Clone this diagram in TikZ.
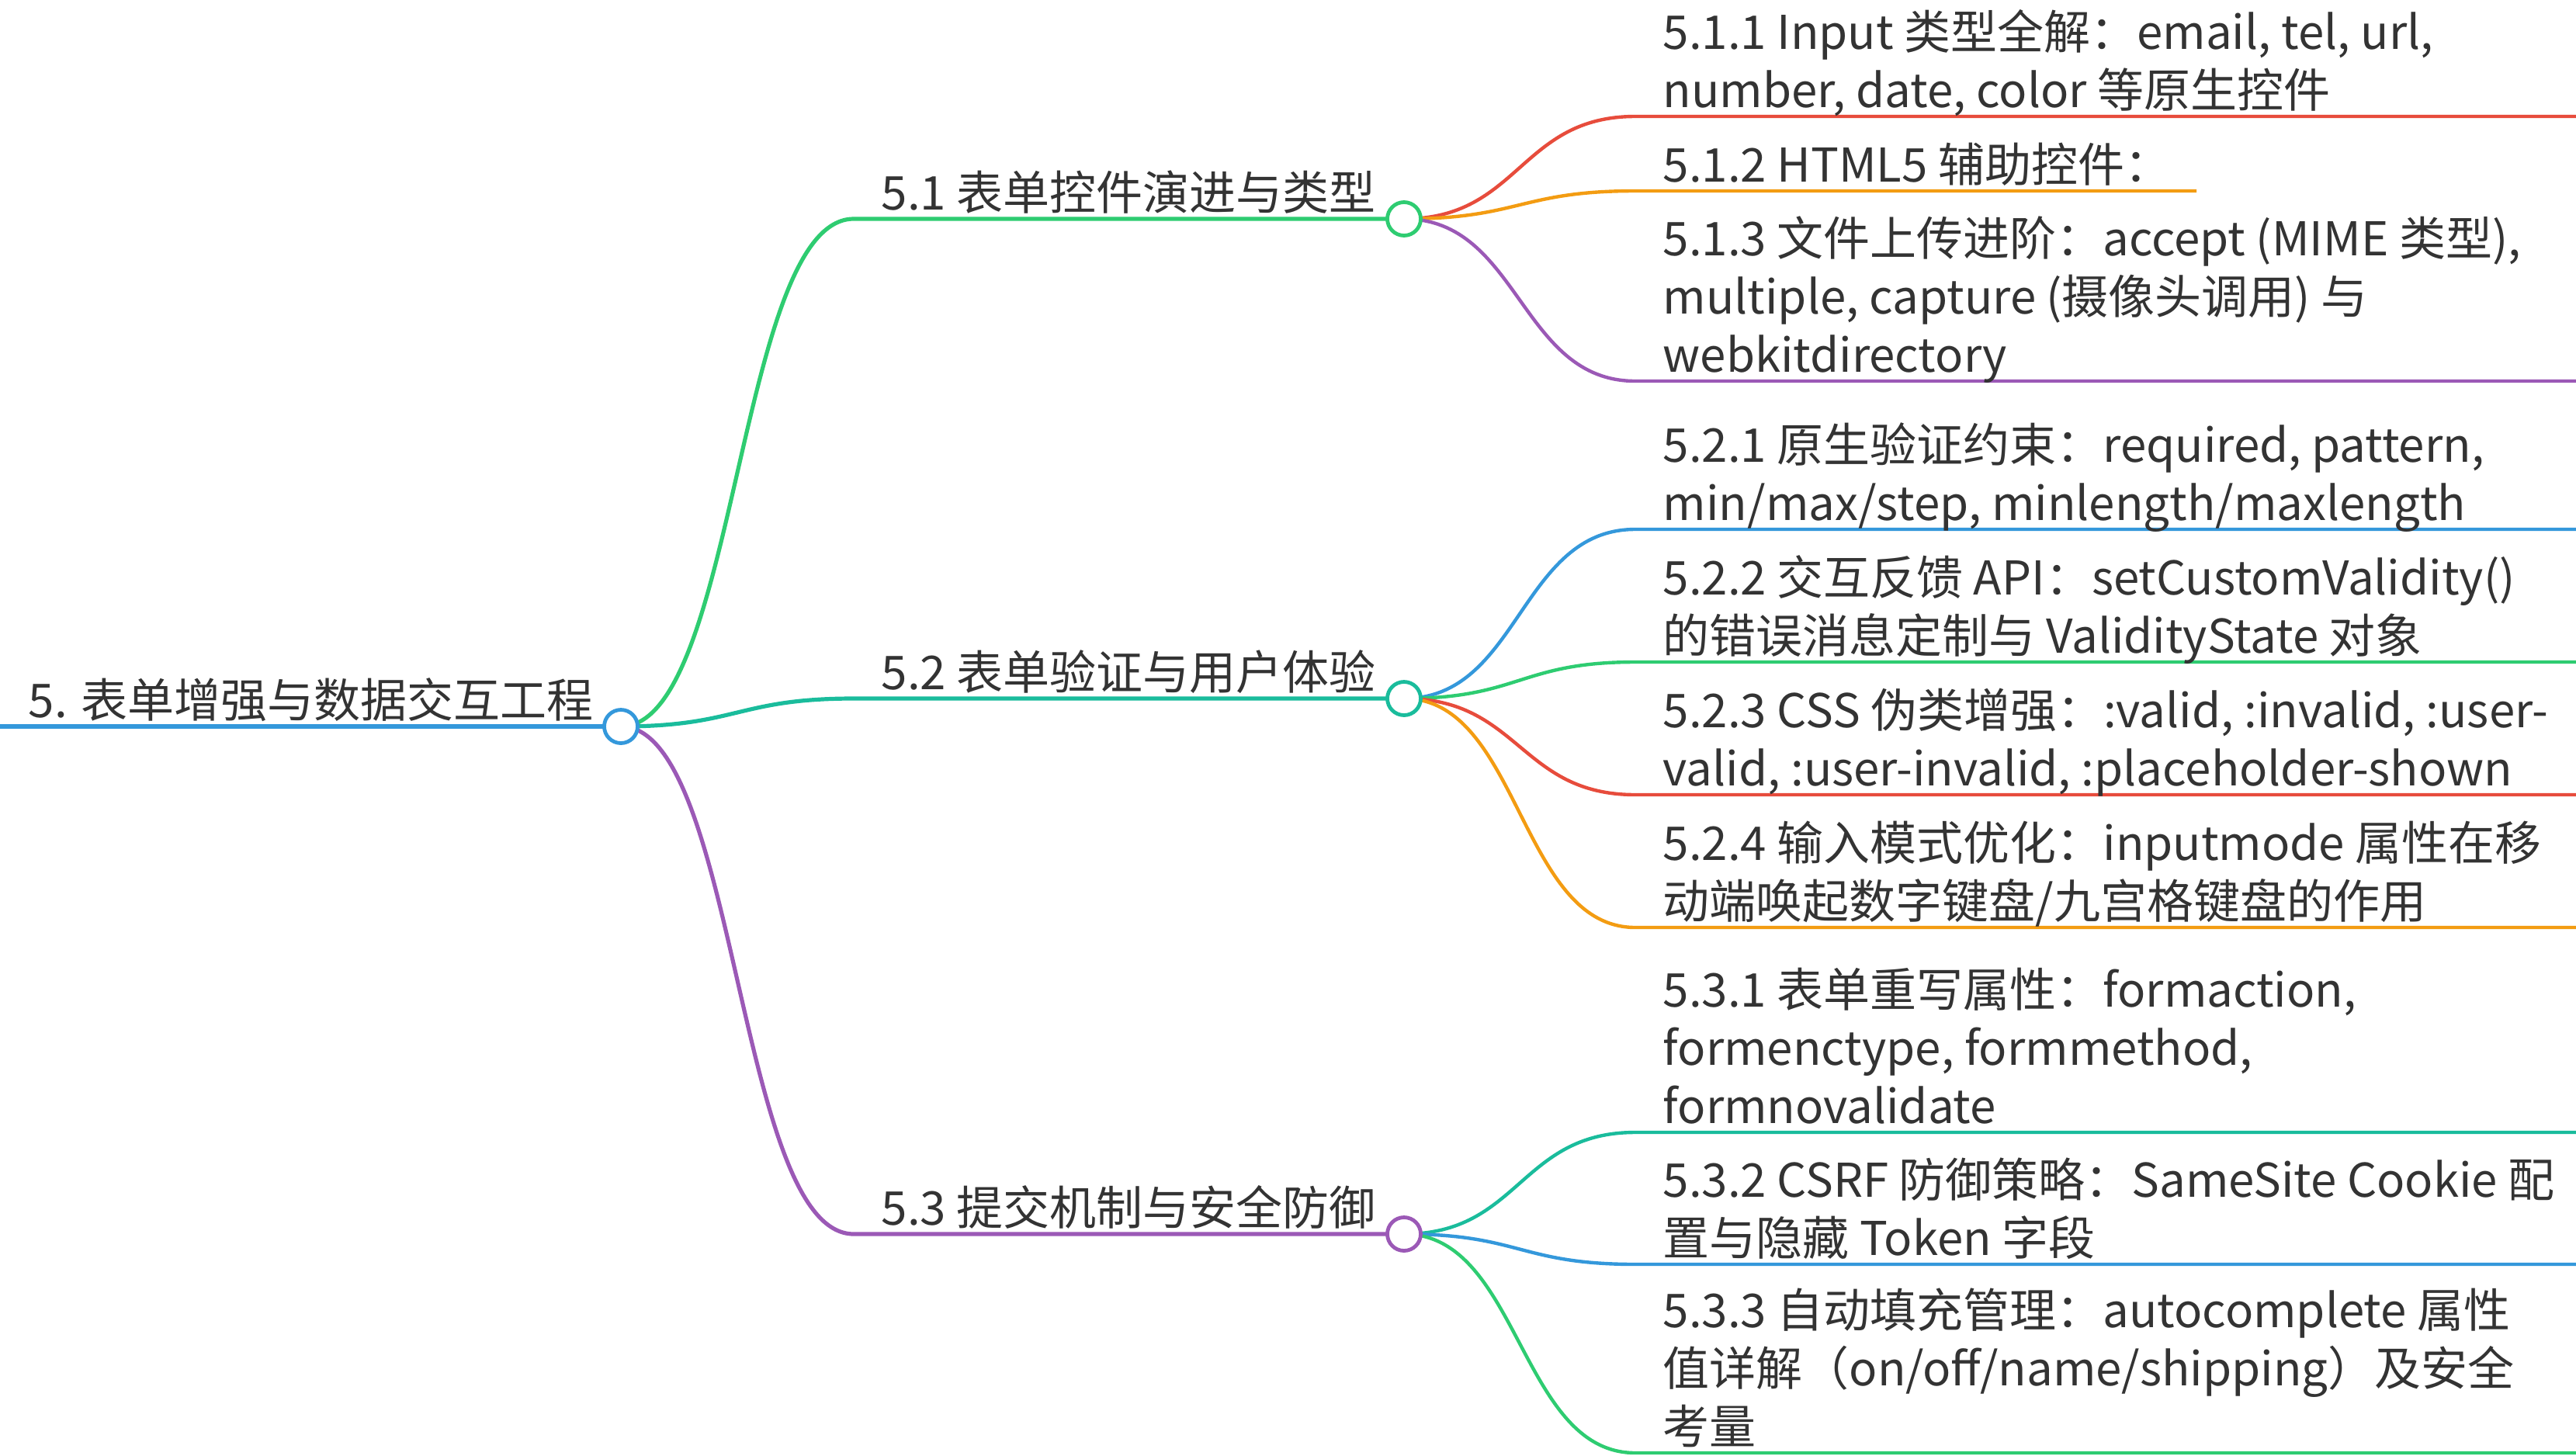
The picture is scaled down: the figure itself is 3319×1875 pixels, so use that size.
\documentclass[tikz,border=0pt]{standalone}
\usepackage{fontspec}
\setmainfont{Noto Sans CJK SC}
\usetikzlibrary{calc,backgrounds}

\definecolor{mmblue}{HTML}{3498DB}
\definecolor{mmgreen}{HTML}{2ECC71}
\definecolor{mmteal}{HTML}{1ABC9C}
\definecolor{mmpurple}{HTML}{9B59B6}
\definecolor{mmred}{HTML}{E74C3C}
\definecolor{mmorange}{HTML}{F39C12}
\definecolor{mmtext}{HTML}{333333}

\newcommand{\leaf}[1]{\parbox[t]{330pt}{#1}}

\begin{document}
\begin{tikzpicture}[
            x=0.25pt, y=-0.25pt,
            txt/.style={
                anchor=base west,
                inner sep=0pt,
                text=mmtext,
                font=\fontsize{15}{18.75}\selectfont
            },
            knob/.style={
                circle,
                draw=#1,
                fill=white,
                line width=1.2pt,
                minimum size=10.75pt,
                inner sep=0pt
            },
            link/.style={
                to path={let \p1=(\tikztostart), \p2=(\tikztotarget) in
                    .. controls ({(\x1+\x2)/2},\y1) and ({(\x1+\x2)/2},\y2) .. (\tikztotarget)}
            },
            rootline/.style={line width=1.6pt},
            midline/.style={line width=1.3pt},
            leafline/.style={line width=1.1pt}
        ]
            \useasboundingbox (0,0) rectangle (3319,1875);

            % --- Root ---
            \coordinate (r0) at (0,936);
            \node[knob=mmblue] (root) at (800,936) {};
            \node[txt] (troot) at (36,924) {5. 表单增强与数据交互工程};

            % --- Second level ---
            \coordinate (s1) at (1100,282);
            \coordinate (s2) at (1100,900);
            \coordinate (s3) at (1100,1590);
            \node[knob=mmgreen] (k1) at (1809,282) {};
            \node[knob=mmteal] (k2) at (1809,900) {};
            \node[knob=mmpurple] (k3) at (1809,1590) {};
            \node[txt] (t1) at (1135,270) {5.1 表单控件演进与类型};
            \node[txt] (t2) at (1135,888) {5.2 表单验证与用户体验};
            \node[txt] (t3) at (1135,1578) {5.3 提交机制与安全防御};

            % --- Leaves: line start / line end ---
            \foreach \idx/\y in {11/150,13/491,21/682,22/853,23/1024,24/1195,31/1459,32/1629,33/1872} {
                \coordinate (s\idx) at (2107,\y);
                \coordinate (e\idx) at (3319,\y);
            }
            \coordinate (s12) at (2107,246);
            \coordinate (e12) at (2830,246);

            \node[txt] (t11) at (2142,63) {\leaf{5.1.1 Input 类型全解：email, tel, url,\\number, date, color 等原生控件}};
            \node[txt] (t12) at (2142,234) {\leaf{5.1.2 HTML5 辅助控件：}};
            \node[txt] (t13) at (2142,329) {\leaf{5.1.3 文件上传进阶：accept (MIME 类型),\\multiple, capture (摄像头调用) 与\\webkitdirectory}};
            \node[txt] (t21) at (2142,595) {\leaf{5.2.1 原生验证约束：required, pattern,\\min/max/step, minlength/maxlength}};
            \node[txt] (t22) at (2142,766) {\leaf{5.2.2 交互反馈 API：setCustomValidity()\\的错误消息定制与 ValidityState 对象}};
            \node[txt] (t23) at (2142,937) {\leaf{5.2.3 CSS 伪类增强：:valid, :invalid, :user-\\valid, :user-invalid, :placeholder-shown}};
            \node[txt] (t24) at (2142,1108) {\leaf{5.2.4 输入模式优化：inputmode 属性在移\\动端唤起数字键盘/九宫格键盘的作用}};
            \node[txt] (t31) at (2142,1297) {\leaf{5.3.1 表单重写属性：formaction,\\formenctype, formmethod,\\formnovalidate}};
            \node[txt] (t32) at (2142,1542) {\leaf{5.3.2 CSRF 防御策略：SameSite Cookie 配\\置与隐藏 Token 字段}};
            \node[txt] (t33) at (2142,1710) {\leaf{5.3.3 自动填充管理：autocomplete 属性\\值详解（on/off/name/shipping）及安全\\考量}};

            % --- Branches ---
            \begin{scope}[on background layer]
                \draw[rootline, mmblue] (r0) -- (root.center);
                \foreach \k/\sk/\col in {k1/s1/mmgreen,k2/s2/mmteal,k3/s3/mmpurple} {
                    \draw[midline, link, \col] (root.center) to (\sk) -- (\k.center);
                }
                \foreach \k/\idx/\col in {k1/11/mmred,k1/12/mmorange,k1/13/mmpurple,
                        k2/21/mmblue,k2/22/mmgreen,k2/23/mmred,k2/24/mmorange,
                        k3/31/mmteal,k3/32/mmblue,k3/33/mmgreen} {
                    \draw[leafline, link, \col] (\k.center) to (s\idx) -- (e\idx);
                }
            \end{scope}
        \end{tikzpicture}
\end{document}
